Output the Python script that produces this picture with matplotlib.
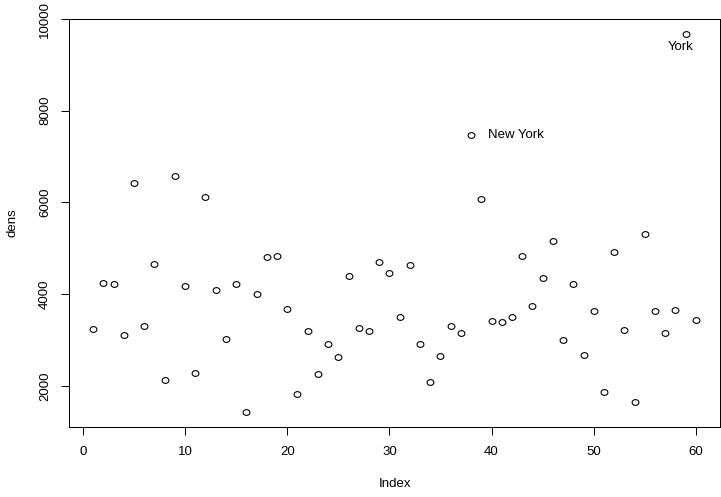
import matplotlib
matplotlib.use("Agg")
import matplotlib.pyplot as plt
from matplotlib.path import Path
from matplotlib.transforms import Affine2D

plt.rcParams['font.family'] = ['Liberation Sans', 'DejaVu Sans']

# population density per city, in index order
dens = [3230, 4250, 4230, 3110, 6420, 3310, 4660, 2130, 6570, 4180,
        2280, 6110, 4080, 3030, 4230, 1430, 4010, 4800, 4820, 3680,
        1830, 3200, 2260, 2900, 2630, 4400, 3250, 3200, 4690, 4450,
        3490, 4640, 2920, 2090, 2660, 3310, 3160, 7460, 6070, 3420,
        3380, 3490, 4820, 3750, 4340, 5160, 3000, 4230, 2680, 3620,
        1870, 4910, 3220, 1650, 5300, 3640, 3140, 3660, 9670, 3440]
index = list(range(1, len(dens) + 1))

# labelled outliers: (index, text, placement)
labelled = [(38, 'New York', 'right'), (59, 'York', 'below')]

FS = 13.3

# slightly flattened ring, like a lowercase "o"
ring = Path.unit_circle().transformed(Affine2D().scale(1.0, 0.85))

fig = plt.figure(figsize=(721 / 72, 497 / 72), dpi=72)
ax = fig.add_axes([69 / 721, 1 - 427 / 497, 651 / 721, 408 / 497])

ax.plot(index, dens, linestyle='none', marker=ring, markersize=6.8,
        markerfacecolor='none', markeredgecolor='black', markeredgewidth=1.1)

for i, txt, where in labelled:
    if where == 'right':
        ax.annotate(txt, (i, dens[i - 1]), xytext=(17, 0), textcoords='offset points',
                    ha='left', va='center', fontsize=FS)
    else:
        ax.annotate(txt, (i, dens[i - 1]), xytext=(-5, -13), textcoords='offset points',
                    ha='center', va='center', fontsize=FS)

# R-style 4% padding around the data range
xr = max(index) - min(index)
yr = max(dens) - min(dens)
ax.set_xlim(min(index) - 0.04 * xr, max(index) + 0.04 * xr)
ax.set_ylim(min(dens) - 0.04 * yr, max(dens) + 0.04 * yr)

ax.set_xticks([0, 10, 20, 30, 40, 50, 60])
ax.set_yticks([2000, 4000, 6000, 8000, 10000])
ax.tick_params(direction='out', length=8, width=1, labelsize=FS)
ax.tick_params(axis='x', pad=11)
ax.tick_params(axis='y', pad=10)
for lab in ax.get_yticklabels():
    lab.set_rotation(90)
    lab.set_va('center')

for s in ax.spines.values():
    s.set_linewidth(1)

ax.set_xlabel('Index', fontsize=FS, labelpad=20)
ax.set_ylabel('dens', fontsize=FS, labelpad=20)

fig.savefig('out.png', dpi=72)
